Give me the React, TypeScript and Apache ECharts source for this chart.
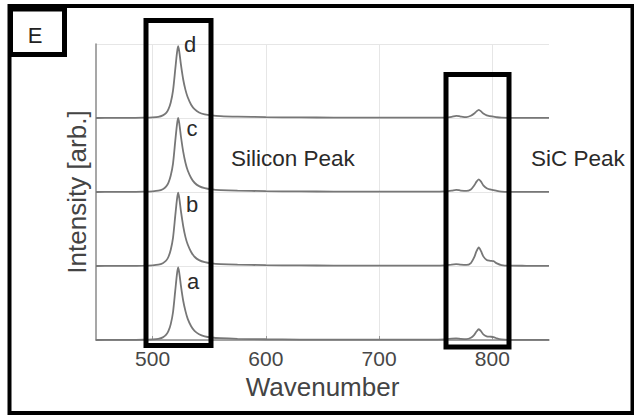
import React, { useEffect, useRef } from "react";
import * as echarts from "echarts";

// Wavenumber sample positions (cm^-1)
const wavenumber = [
  450, 465, 480, 492, 500, 505, 509, 512, 514, 516, 518, 520, 521.5, 522.5, 523.5, 525, 527, 529, 531, 534,
  537, 541, 546, 552, 560, 575, 600, 630, 660, 690, 720, 745, 758, 764, 768, 772, 777, 781, 784, 786,
  788, 790, 792, 795, 798, 801, 804, 808, 815, 830, 850,
];

// Raw intensities (normalised)
const spectrumA = [
  0.0, 0.002, 0.001, 0.004, 0.009, 0.016, 0.036, 0.072, 0.122, 0.215, 0.375, 0.67, 0.89, 0.98, 0.91, 0.73, 0.53, 0.39, 0.285, 0.185,
  0.122, 0.078, 0.05, 0.034, 0.024, 0.016, 0.01, 0.006, 0.005, 0.004, 0.004, 0.004, 0.008, 0.018, 0.022, 0.016, 0.012, 0.03, 0.07, 0.115,
  0.145, 0.118, 0.075, 0.05, 0.045, 0.04, 0.022, 0.008, 0.003, 0.002, 0.002,
];
const spectrumB = [
  0.0, 0.001, 0.002, 0.004, 0.009, 0.017, 0.038, 0.074, 0.125, 0.22, 0.38, 0.68, 0.9, 0.99, 0.92, 0.74, 0.54, 0.39, 0.29, 0.19,
  0.125, 0.08, 0.052, 0.036, 0.026, 0.018, 0.012, 0.008, 0.006, 0.004, 0.004, 0.005, 0.008, 0.02, 0.025, 0.018, 0.014, 0.04, 0.12, 0.2,
  0.25, 0.2, 0.13, 0.08, 0.07, 0.065, 0.035, 0.012, 0.004, 0.003, 0.002,
];
const spectrumC = [
  0.0, 0.002, 0.001, 0.004, 0.009, 0.017, 0.038, 0.075, 0.127, 0.222, 0.385, 0.69, 0.91, 1.0, 0.93, 0.75, 0.545, 0.395, 0.29, 0.19,
  0.125, 0.08, 0.052, 0.036, 0.026, 0.018, 0.012, 0.008, 0.006, 0.005, 0.004, 0.005, 0.008, 0.018, 0.03, 0.02, 0.014, 0.035, 0.09, 0.14,
  0.17, 0.14, 0.09, 0.05, 0.035, 0.025, 0.014, 0.006, 0.003, 0.002, 0.002,
];
const spectrumD = [
  0.0, 0.002, 0.001, 0.004, 0.008, 0.015, 0.035, 0.07, 0.12, 0.21, 0.37, 0.66, 0.88, 0.97, 0.9, 0.72, 0.52, 0.38, 0.28, 0.18,
  0.12, 0.075, 0.05, 0.035, 0.025, 0.018, 0.012, 0.008, 0.006, 0.004, 0.004, 0.004, 0.006, 0.015, 0.03, 0.02, 0.012, 0.03, 0.06, 0.09,
  0.11, 0.09, 0.06, 0.035, 0.025, 0.018, 0.01, 0.004, 0.002, 0.002, 0.002,
];

const spectra = [spectrumA, spectrumB, spectrumC, spectrumD];
const spectrumNames = ["a", "b", "c", "d"];
const stackOffsets = [0, 1, 2, 3];
const xTickValues = [500, 600, 700, 800];

const FONT = "'Liberation Sans', Arial, Helvetica, sans-serif";

export default function App() {
  const ref = useRef<HTMLDivElement>(null);

  useEffect(() => {
    if (!ref.current) return;
    const chart = echarts.init(ref.current, undefined, { renderer: "svg" });

    const series = spectra.map((vals, i) => ({
      type: "line",
      name: spectrumNames[i],
      data: wavenumber.map((x, k) => [x, vals[k] + stackOffsets[i]]),
      showSymbol: false,
      symbol: "none",
      smooth: 0.25,
      lineStyle: { color: "#777777", width: 1.8 },
      z: 3,
    }));

    const labelStyle = { font: `22px ${FONT}`, fill: "#2a2a2a" };

    chart.setOption({
      animation: false,
      backgroundColor: "#ffffff",
      grid: { left: 96, top: 44, right: 85, bottom: 77, containLabel: false },
      xAxis: {
        type: "value",
        min: 450,
        max: 850,
        name: "Wavenumber",
        nameLocation: "middle",
        nameGap: 34,
        nameTextStyle: { fontFamily: FONT, fontSize: 26, color: "#444" },
        axisLine: { show: true, lineStyle: { color: "#8a8a8a", width: 1.5 } },
        axisTick: {
          show: true,
          inside: true,
          length: 4,
          customValues: xTickValues,
          lineStyle: { color: "#999" },
        },
        axisLabel: {
          customValues: xTickValues,
          fontFamily: FONT,
          fontSize: 21,
          color: "#474747",
          margin: 8,
        },
        splitLine: { show: true, lineStyle: { color: "#e6e6e6", width: 1 } },
      },
      yAxis: {
        type: "value",
        min: 0,
        max: 4,
        interval: 1,
        name: "Intensity [arb.]",
        nameLocation: "middle",
        nameGap: 6,
        nameTextStyle: { fontFamily: FONT, fontSize: 26, color: "#444" },
        axisLine: { show: true, lineStyle: { color: "#8a8a8a", width: 1.5 } },
        axisTick: { show: false },
        axisLabel: { show: false },
        splitLine: { show: true, lineStyle: { color: "#e6e6e6", width: 1 } },
      },
      series,
      graphic: [
        {
          type: "rect",
          shape: { x: 9.5, y: 6, width: 623, height: 407 },
          style: { fill: "none", stroke: "#000", lineWidth: 4 },
          z: 10,
        },
        {
          type: "rect",
          shape: { x: 10.5, y: 9, width: 54, height: 45.5 },
          style: { fill: "#fff", stroke: "#000", lineWidth: 5 },
          z: 10,
        },
        {
          type: "text",
          x: 35,
          y: 35,
          style: { text: "E", font: `22px ${FONT}`, fill: "#222", textAlign: "center", textVerticalAlign: "middle" },
          z: 11,
        },
        {
          type: "rect",
          shape: { x: 146, y: 20.5, width: 65, height: 325 },
          style: { fill: "none", stroke: "#000", lineWidth: 5 },
          z: 10,
        },
        {
          type: "rect",
          shape: { x: 446, y: 74.5, width: 63, height: 272.5 },
          style: { fill: "none", stroke: "#000", lineWidth: 5 },
          z: 10,
        },
        { type: "text", x: 190, y: 44, style: { ...labelStyle, text: "d", textAlign: "center", textVerticalAlign: "middle" }, z: 11 },
        { type: "text", x: 192, y: 128, style: { ...labelStyle, text: "c", textAlign: "center", textVerticalAlign: "middle" }, z: 11 },
        { type: "text", x: 192, y: 204, style: { ...labelStyle, text: "b", textAlign: "center", textVerticalAlign: "middle" }, z: 11 },
        { type: "text", x: 193, y: 281, style: { ...labelStyle, text: "a", textAlign: "center", textVerticalAlign: "middle" }, z: 11 },
        {
          type: "text",
          x: 231,
          y: 158,
          style: { text: "Silicon Peak", font: `22.5px ${FONT}`, fill: "#2a2a2a", textAlign: "left", textVerticalAlign: "middle" },
          z: 11,
        },
        {
          type: "text",
          x: 531,
          y: 158,
          style: { text: "SiC Peak", font: `22.5px ${FONT}`, fill: "#2a2a2a", textAlign: "left", textVerticalAlign: "middle" },
          z: 11,
        },
      ],
    });

    return () => chart.dispose();
  }, []);

  return (
    <div
      ref={ref}
      style={{ position: "absolute", left: 0, top: 0, width: 634, height: 417, background: "#fff" }}
    />
  );
}
